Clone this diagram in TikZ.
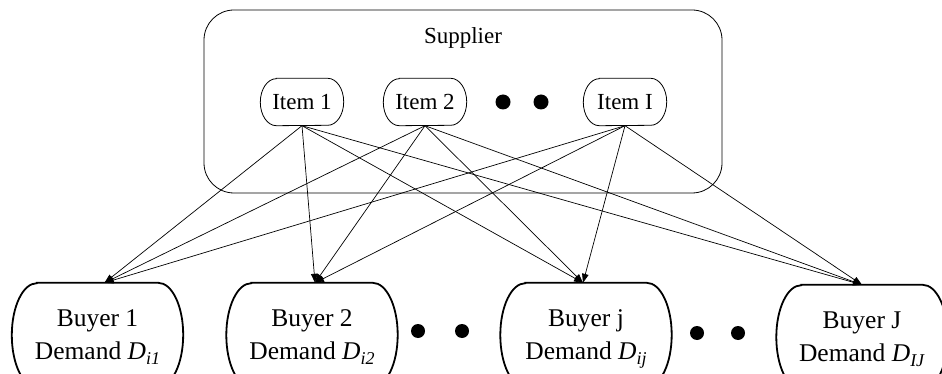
\documentclass[tikz,border=0pt]{standalone}
\usepackage{fontspec}
\setmainfont{Liberation Serif}
\usetikzlibrary{arrows.meta}
\newcommand{\subtx}[1]{\raisebox{-0.17em}[0pt][0pt]{\fontsize{18}{18}\selectfont\textit{#1}}}
\begin{document}
\begin{tikzpicture}[x=1pt,y=-1pt,
  itembox/.style={rectangle,minimum width=83pt,minimum height=47pt,inner sep=0pt,
    font=\fontsize{23}{28}\selectfont},
  buyerbox/.style={rectangle,minimum width=171pt,minimum height=104pt,inner sep=0pt,align=center,
    font=\fontsize{25.5}{33}\selectfont},
  itemline/.style={line width=0.8pt},
  buyerline/.style={line width=1.8pt},
  link/.style={line width=0.7pt,-{Triangle[length=9pt,width=6.5pt]}},
  bigdot/.style={circle,fill=black,inner sep=0pt,minimum size=15pt}]
\useasboundingbox (0,0) rectangle (942,374);
\draw[line width=0.8pt,rounded corners=30pt] (204,10) rectangle (722,193);
\node[font=\fontsize{23}{28}\selectfont] (sup) at (463,38) {Supplier};
\node[itembox] (i1) at (302,102) {Item 1};
\node[itembox] (i2) at (425,102) {Item 2};
\node[itembox] (iI) at (625,102) {Item I};
\foreach \n in {i1,i2,iI}{
  \draw[itemline] ([xshift=16pt]\n.north west) -- ([xshift=-16pt]\n.north east)
    arc[start angle=90,end angle=-90,x radius=16pt,y radius=23.5pt]
    -- ([xshift=16pt]\n.south west)
    arc[start angle=270,end angle=90,x radius=16pt,y radius=23.5pt] -- cycle;
}
\node[bigdot] (d1) at (503,102) {};
\node[bigdot] (d2) at (541,102) {};
\node[buyerbox] (b1) at (97.5,335) {Buyer 1\\Demand \textit{D}\subtx{i1}};
\node[buyerbox] (b2) at (312,335) {Buyer 2\\Demand \textit{D}\subtx{i2}};
\node[buyerbox] (bj) at (586,335) {Buyer j\\Demand \textit{D}\subtx{ij}};
\node[buyerbox] (bJ) at (862,337) {Buyer J\\Demand \textit{D}\subtx{IJ}};
\foreach \n in {b1,b2,bj,bJ}{
  \draw[buyerline] ([xshift=25pt]\n.north west) -- ([xshift=-25pt]\n.north east)
    arc[start angle=90,end angle=-90,x radius=25pt,y radius=52pt]
    -- ([xshift=25pt]\n.south west)
    arc[start angle=270,end angle=90,x radius=25pt,y radius=52pt] -- cycle;
}
\node[bigdot,minimum size=14pt] (d3) at (418,331) {};
\node[bigdot,minimum size=14pt] (d4) at (462,331) {};
\node[bigdot,minimum size=14pt] (d5) at (697,333) {};
\node[bigdot,minimum size=14pt] (d6) at (738,333) {};
\coordinate (t1) at ([xshift=7pt]b1.north);
\coordinate (t2) at ([xshift=3pt]b2.north);
\coordinate (tj) at ([xshift=-3pt]bj.north);
\coordinate (tJ) at (bJ.north);
\foreach \s in {i1,i2,iI}{
  \foreach \t in {t1,t2,tj,tJ}{
    \draw[link] (\s.south) -- (\t);
  }
}
\end{tikzpicture}
\end{document}
